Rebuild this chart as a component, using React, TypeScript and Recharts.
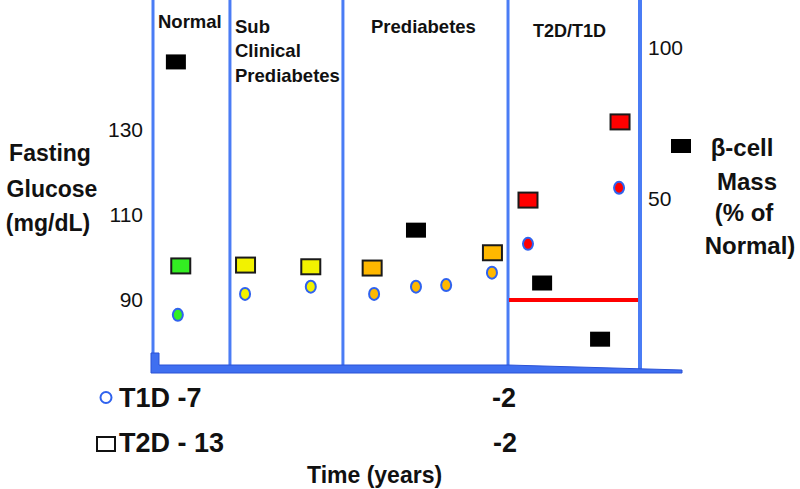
import { ScatterChart, Scatter, XAxis, YAxis, ReferenceLine } from "recharts";

// time axis is a schematic position (0 = left axis, 100 = right axis)
const stageBounds = [0, 15.8, 39.0, 72.9, 100];

// T2D glucose (squares)
const t2dTime = [5.7, 19.0, 32.4, 45.0, 69.7, 77.0, 95.9];
const t2dGlucose = [98.0, 98.2, 97.8, 97.5, 101.1, 113.5, 131.9];
const t2dColor = ["#33ee22", "#f2f200", "#f2f200", "#ffb800", "#ffb800", "#ff0000", "#ff0000"];

// T1D glucose (circles)
const t1dTime = [5.1, 18.9, 32.4, 45.4, 54.0, 60.2, 69.6, 77.0, 95.7];
const t1dGlucose = [86.5, 91.4, 93.1, 91.4, 93.1, 93.5, 96.4, 103.2, 116.4];
const t1dColor = ["#33ee22", "#f2f200", "#f2f200", "#ffb800", "#ffb800", "#ffb800", "#ffb800", "#ff0000", "#ff0000"];

// beta-cell mass, % of normal (black squares, right axis)
const betaTime = [4.7, 54.0, 79.9, 91.8];
const betaMass = [95.4, 39.7, 22.2, 3.6];

const glucoseTicks = [90, 110, 130];
const massTicks = [50, 100];
const thresholdGlucose = 90;
const thresholdSpan = [73.1, 99.6];

const BLUE = "#4a7cf5";
const FONT = "'Liberation Sans', Arial, sans-serif";

const t2dData = t2dTime.map((x, i) => ({ x, y: t2dGlucose[i], color: t2dColor[i] }));
const t1dData = t1dTime.map((x, i) => ({ x, y: t1dGlucose[i], color: t1dColor[i] }));
const betaData = betaTime.map((x, i) => ({ x, y: betaMass[i] }));

const Square = (props: any) => {
  const { cx, cy, payload } = props;
  return (
    <rect x={cx - 9.5} y={cy - 7.5} width={19} height={15} fill={payload.color} stroke="#1a1a1a" strokeWidth={2} />
  );
};

const Circle = (props: any) => {
  const { cx, cy, payload } = props;
  return <ellipse cx={cx} cy={cy} rx={5} ry={6} fill={payload.color} stroke="#2f62ee" strokeWidth={2} />;
};

const BlackSquare = (props: any) => {
  const { cx, cy } = props;
  return <rect x={cx - 10} y={cy - 7.5} width={20} height={15} fill="#000" />;
};

const tickStyle = { fontSize: 21, fontFamily: FONT, fill: "#111" };

export default function App() {
  return (
    <div style={{ position: "absolute", left: 0, top: 0, width: 800, height: 489, background: "#fff" }}>
      <ScatterChart width={800} height={489} margin={{ top: 0, right: 0, left: 0, bottom: 119 }}>
        <XAxis type="number" dataKey="x" domain={[0, 100]} allowDataOverflow hide />
        <YAxis
          yAxisId="g"
          type="number"
          dataKey="y"
          domain={[73.5, 160.6]}
          allowDataOverflow
          ticks={glucoseTicks}
          width={153}
          axisLine={false}
          tickLine={false}
          tickSize={0}
          tickMargin={10}
          tick={tickStyle}
        />
        <YAxis
          yAxisId="m"
          orientation="right"
          type="number"
          dataKey="y"
          domain={[-6.6, 115.9]}
          allowDataOverflow
          ticks={massTicks}
          width={160}
          axisLine={false}
          tickLine={false}
          tickSize={0}
          tickMargin={8}
          tick={tickStyle}
        />
        {stageBounds.map((b) => (
          <ReferenceLine key={b} x={b} yAxisId="g" stroke={BLUE} strokeWidth={b === 100 ? 4 : 3} ifOverflow="visible" />
        ))}
        <ReferenceLine
          yAxisId="g"
          segment={[
            { x: thresholdSpan[0], y: thresholdGlucose },
            { x: thresholdSpan[1], y: thresholdGlucose },
          ]}
          stroke="#ff0000"
          strokeWidth={4}
        />
        <Scatter yAxisId="m" data={betaData} dataKey="y" shape={BlackSquare} isAnimationActive={false} />
        <Scatter yAxisId="g" data={t2dData} dataKey="y" shape={Square} isAnimationActive={false} />
        <Scatter yAxisId="g" data={t1dData} dataKey="y" shape={Circle} isAnimationActive={false} />
      </ScatterChart>

      <svg
        width={800}
        height={489}
        style={{ position: "absolute", left: 0, top: 0, pointerEvents: "none" }}
        fontFamily={FONT}
        fontWeight="bold"
        fill="#111"
      >
        {/* bottom axis bar with its tapered end */}
        <polygon points="151,353 159,353 159,365 508,365 682,370 682,373 151,373" fill="#3f6ff0" stroke="#2b52d6" strokeWidth={1} />

        {/* stage headers */}
        <text x={158} y={28} fontSize={18.5}>Normal</text>
        <text x={235} y={33} fontSize={18.5}>Sub</text>
        <text x={235} y={57} fontSize={18.5}>Clinical</text>
        <text x={235} y={82} fontSize={18.5}>Prediabetes</text>
        <text x={371} y={33} fontSize={18.5}>Prediabetes</text>
        <text x={533} y={37} fontSize={18}>T2D/T1D</text>

        {/* left axis title */}
        <text x={50} y={161} fontSize={23} textAnchor="middle">Fasting</text>
        <text x={52} y={197} fontSize={23} textAnchor="middle">Glucose</text>
        <text x={48} y={231} fontSize={23} textAnchor="middle">(mg/dL)</text>

        {/* right axis title */}
        <rect x={671} y={139} width={20} height={14} fill="#000" />
        <text x={742} y={156} fontSize={24} textAnchor="middle">β-cell</text>
        <text x={747} y={190} fontSize={24} textAnchor="middle">Mass</text>
        <text x={744} y={221} fontSize={24} textAnchor="middle">(% of</text>
        <text x={750} y={254} fontSize={24} textAnchor="middle">Normal)</text>

        {/* time annotations */}
        <ellipse cx={106} cy={397.5} rx={5.5} ry={5.5} fill="none" stroke="#2f62ee" strokeWidth={2} />
        <text x={119} y={407} fontSize={27}>T1D -7</text>
        <rect x={97} y={437} width={18} height={14} fill="none" stroke="#111" strokeWidth={2} />
        <text x={119} y={452} fontSize={27}>T2D - 13</text>
        <text x={492} y={407} fontSize={27}>-2</text>
        <text x={493} y={452} fontSize={27}>-2</text>
        <text x={307} y={483} fontSize={23}>Time (years)</text>
      </svg>
    </div>
  );
}
